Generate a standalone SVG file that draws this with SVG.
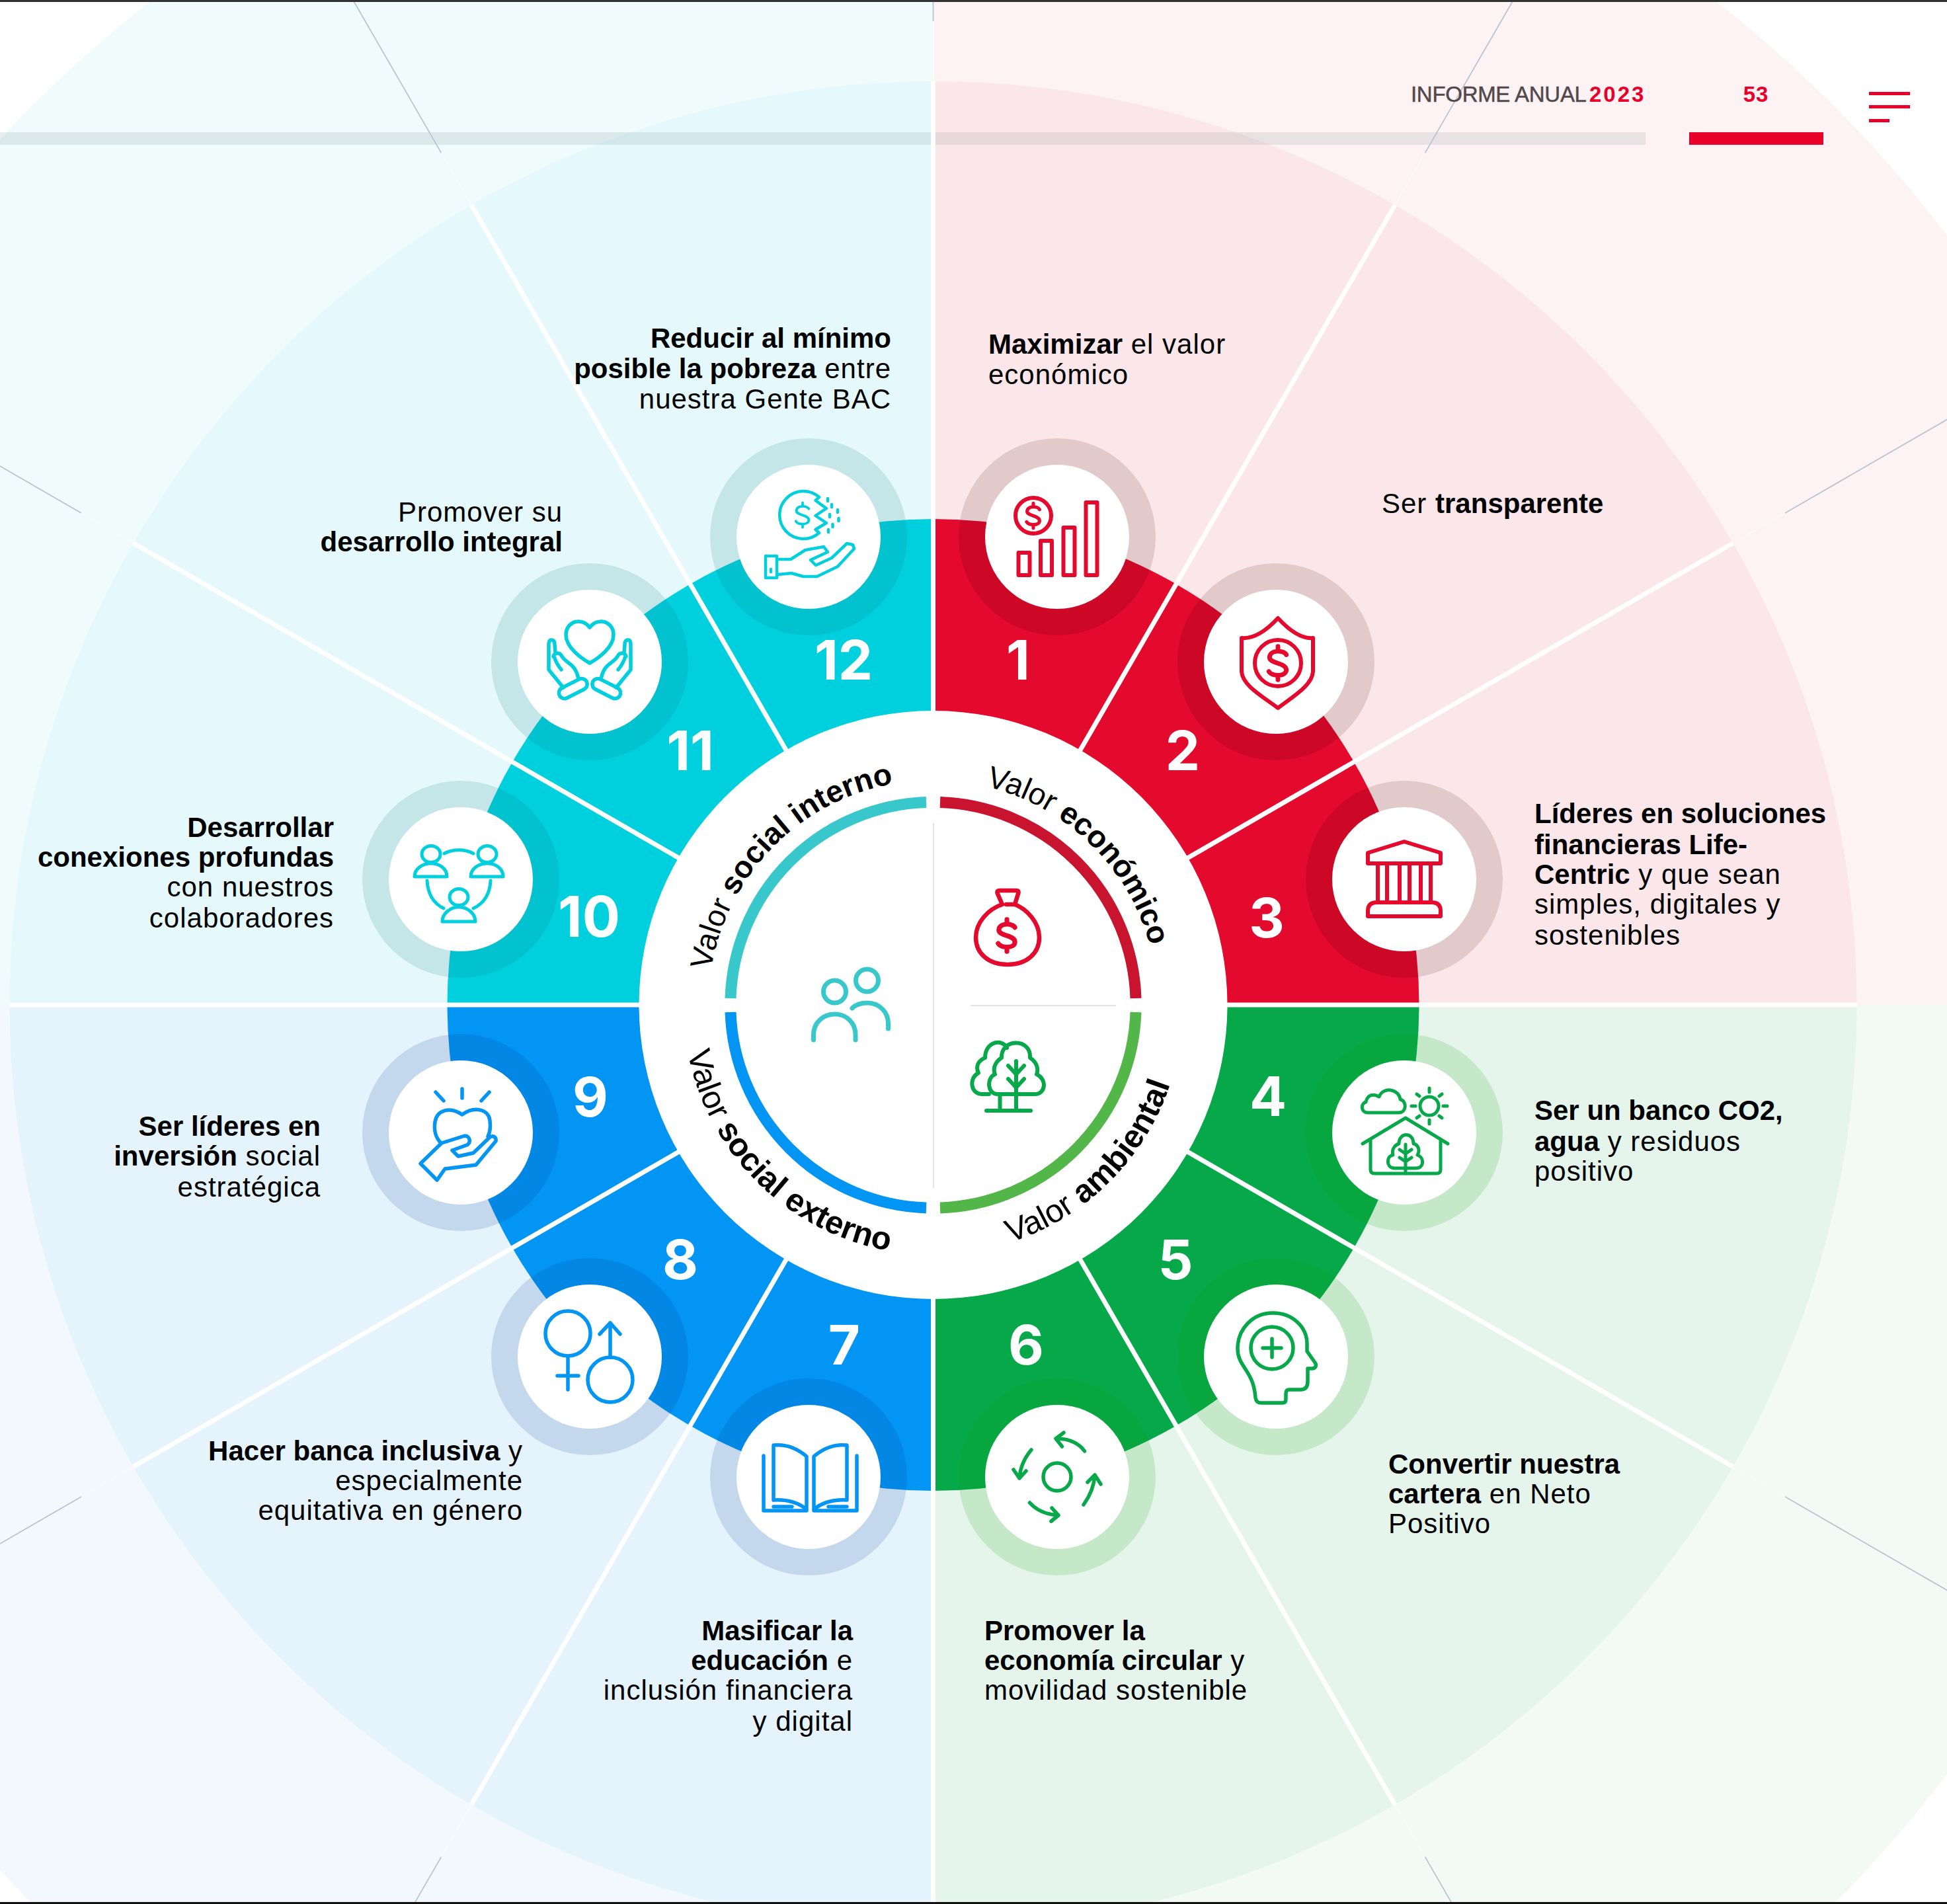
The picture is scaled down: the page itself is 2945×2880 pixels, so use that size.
<svg xmlns="http://www.w3.org/2000/svg" width="2945" height="2880" viewBox="0 0 2945 2880">
<style>
text{font-family:"Liberation Sans",Arial,sans-serif}
.t{font-size:42px;fill:#000;letter-spacing:1px}
.t .b{font-weight:700;letter-spacing:0}
.e{text-anchor:end}
.n{font-family:Inter,"Liberation Sans",sans-serif;font-size:83px;font-weight:700;fill:#fff;text-anchor:middle}
.c{font-size:46.5px;fill:#000}
.cl{font-size:49px;fill:#000}
.c .b,.cl .b{font-weight:700}
.disc{fill:#fff}
.rr{fill:#3a0000;fill-opacity:.13}.rc{fill:#0d7880;fill-opacity:.15}.rg{fill:#079a00;fill-opacity:.14}.rb{fill:#003493;fill-opacity:.146}
.i{fill:none;stroke-width:5.5;stroke-linecap:round;stroke-linejoin:round}
.ir{stroke:#e30a2d;stroke-width:6}.ic{stroke:#00cfdd}.ig{stroke:#07a84a}.ib{stroke:#0395f3}
.spoke{stroke:#fff;stroke-width:7}
.faint{stroke:#fff;stroke-width:2;stroke-opacity:.35}
.thin{stroke:#b9c4d2;stroke-width:1.8}
.arc{fill:none;stroke-width:17}
</style>
<defs>
<path id="dollar" d="M11,-11C8,-17 -10,-18 -11,-8C-12,1 11,-1 11,9C11,18 -8,18 -12,11M0,-22V-16M0,16V22"/>
<path id="upper" d="M1071.5,1520A340,340 0 0 1 1751.5,1520"/>
<path id="lower" d="M1033.5,1520A378,378 0 0 0 1789.5,1520"/>
</defs>
<rect width="2945" height="2880" fill="#fff"/>
<g id="background">
<path fill="#fdf3f5" d="M1411.5,1520V-405A1925,1925 0 0 1 3336.5,1520Z"/>
<path fill="#f3f9f5" d="M1411.5,1520H3336.5A1925,1925 0 0 1 1411.5,3445Z"/>
<path fill="#f2f8fe" d="M1411.5,1520V3445A1925,1925 0 0 1 -513.5,1520Z"/>
<path fill="#f0fbfc" d="M1411.5,1520H-513.5A1925,1925 0 0 1 1411.5,-405Z"/>
<path fill="#fbe7e9" d="M1411.5,1520V123A1397,1397 0 0 1 2808.5,1520Z"/>
<path fill="#e5f5eb" d="M1411.5,1520H2808.5A1397,1397 0 0 1 1411.5,2917Z"/>
<path fill="#e5f3fd" d="M1411.5,1520V2917A1397,1397 0 0 1 14.5,1520Z"/>
<path fill="#e5f9fc" d="M1411.5,1520H14.5A1397,1397 0 0 1 1411.5,123Z"/>
<path fill="#e30a2d" d="M1411.5,1520V785A735,735 0 0 1 2146.5,1520Z"/>
<path fill="#07a84a" d="M1411.5,1520H2146.5A735,735 0 0 1 1411.5,2255Z"/>
<path fill="#0395f3" d="M1411.5,1520V2255A735,735 0 0 1 676.5,1520Z"/>
<path fill="#00cfdd" d="M1411.5,1520H676.5A735,735 0 0 1 1411.5,785Z"/>
</g>
<g id="header-bars">
<rect x="0" y="200" width="2489" height="19" fill="#32505c" fill-opacity=".1"/>
<rect x="2555" y="200" width="203" height="19" fill="#e8002a"/>
<rect x="2827" y="139" width="62" height="5" fill="#e8002a"/>
<rect x="2827" y="159" width="62" height="5" fill="#e8002a"/>
<rect x="2827" y="180" width="31" height="5" fill="#e8002a"/>
</g>
<g id="connectors">
<g class="thin">
<line x1="1411.5" y1="32" x2="1411.5" y2="-500"/>
<line x1="1411.5" y1="32" x2="1411.5" y2="-500" transform="rotate(30 1411.5 1520)"/>
<line x1="1411.5" y1="32" x2="1411.5" y2="-500" transform="rotate(60 1411.5 1520)"/>
<line x1="1411.5" y1="32" x2="1411.5" y2="-500" transform="rotate(120 1411.5 1520)"/>
<line x1="1411.5" y1="32" x2="1411.5" y2="-500" transform="rotate(150 1411.5 1520)"/>
<line x1="1411.5" y1="32" x2="1411.5" y2="-500" transform="rotate(210 1411.5 1520)"/>
<line x1="1411.5" y1="32" x2="1411.5" y2="-500" transform="rotate(240 1411.5 1520)"/>
<line x1="1411.5" y1="32" x2="1411.5" y2="-500" transform="rotate(300 1411.5 1520)"/>
<line x1="1411.5" y1="32" x2="1411.5" y2="-500" transform="rotate(330 1411.5 1520)"/>
</g>
<g class="faint">
<line x1="1411.5" y1="123" x2="1411.5" y2="32"/>
<line x1="1411.5" y1="123" x2="1411.5" y2="32" transform="rotate(30 1411.5 1520)"/>
<line x1="1411.5" y1="123" x2="1411.5" y2="32" transform="rotate(60 1411.5 1520)"/>
<line x1="1411.5" y1="123" x2="1411.5" y2="32" transform="rotate(120 1411.5 1520)"/>
<line x1="1411.5" y1="123" x2="1411.5" y2="32" transform="rotate(150 1411.5 1520)"/>
<line x1="1411.5" y1="123" x2="1411.5" y2="32" transform="rotate(210 1411.5 1520)"/>
<line x1="1411.5" y1="123" x2="1411.5" y2="32" transform="rotate(240 1411.5 1520)"/>
<line x1="1411.5" y1="123" x2="1411.5" y2="32" transform="rotate(300 1411.5 1520)"/>
<line x1="1411.5" y1="123" x2="1411.5" y2="32" transform="rotate(330 1411.5 1520)"/>
</g>
<g class="spoke">
<line x1="1411.5" y1="1100" x2="1411.5" y2="123"/>
<line x1="1411.5" y1="1100" x2="1411.5" y2="123" transform="rotate(30 1411.5 1520)"/>
<line x1="1411.5" y1="1100" x2="1411.5" y2="123" transform="rotate(60 1411.5 1520)"/>
<line x1="1411.5" y1="1100" x2="1411.5" y2="123" transform="rotate(90 1411.5 1520)"/>
<line x1="1411.5" y1="1100" x2="1411.5" y2="123" transform="rotate(120 1411.5 1520)"/>
<line x1="1411.5" y1="1100" x2="1411.5" y2="123" transform="rotate(150 1411.5 1520)"/>
<line x1="1411.5" y1="1100" x2="1411.5" y2="123" transform="rotate(180 1411.5 1520)"/>
<line x1="1411.5" y1="1100" x2="1411.5" y2="123" transform="rotate(210 1411.5 1520)"/>
<line x1="1411.5" y1="1100" x2="1411.5" y2="123" transform="rotate(240 1411.5 1520)"/>
<line x1="1411.5" y1="1100" x2="1411.5" y2="123" transform="rotate(270 1411.5 1520)"/>
<line x1="1411.5" y1="1100" x2="1411.5" y2="123" transform="rotate(300 1411.5 1520)"/>
<line x1="1411.5" y1="1100" x2="1411.5" y2="123" transform="rotate(330 1411.5 1520)"/>
</g>
</g>
<g id="hub">
<circle class="disc" cx="1411.5" cy="1520" r="445"/>
<line x1="1412" y1="1245" x2="1412" y2="1797" stroke="#e4e4e8" stroke-width="2"/>
<line x1="1468" y1="1521" x2="1688" y2="1521" stroke="#e4e4e8" stroke-width="2"/>
<path class="arc" stroke="#c8142f" d="M1422,1213.5A306.5,306.5 0 0 1 1718,1510"/>
<path class="arc" stroke="#52b748" d="M1718,1531A306.5,306.5 0 0 1 1422,1827"/>
<path class="arc" stroke="#0395f3" d="M1401,1827A306.5,306.5 0 0 1 1105,1531"/>
<path class="arc" stroke="#38c8cc" d="M1105,1510A306.5,306.5 0 0 1 1401,1213.5"/>
<text class="c"><textPath href="#upper" startOffset="614">Valor <tspan class="b">económico</tspan></textPath></text>
<text class="c"><textPath href="#upper" startOffset="53">Valor <tspan class="b">social interno</tspan></textPath></text>
<text class="cl"><textPath href="#lower" startOffset="72">Valor <tspan class="b">social externo</tspan></textPath></text>
<text class="cl"><textPath href="#lower" startOffset="712">Valor <tspan class="b">ambiental</tspan></textPath></text>
<g id="hub-bag" class="i ir" style="stroke-width:6.5">
<path d="M1516,1368C1495,1375 1476,1395 1476,1418C1476,1442 1495,1459 1524,1459C1553,1459 1572,1442 1572,1418C1572,1395 1553,1375 1535,1368H1522M1516,1368L1509,1352Q1507,1347 1512,1347H1537Q1542,1347 1540,1352L1535,1368"/>
<use href="#dollar" transform="translate(1523,1415) scale(1.1)"/>
</g>
<g id="hub-people" class="i" style="stroke:#38c8cc;stroke-width:7">
<circle cx="1262.5" cy="1500" r="17"/><circle cx="1311.5" cy="1483" r="17"/>
<path d="M1230.5,1573V1565C1230.5,1547 1245,1534 1262.5,1534C1280,1534 1294,1547 1294,1565V1573"/>
<path d="M1289,1525C1295,1519 1303,1517 1312,1517C1330,1517 1343.5,1531 1343.5,1548V1556"/>
</g>
<g id="hub-trees" class="i ig" style="stroke-width:6">
<path d="M1509,1655C1493,1655 1492,1630 1505,1625C1500,1612 1510,1603 1515,1600C1514,1570 1560,1570 1558,1600C1566,1605 1572,1615 1568,1625C1584,1632 1582,1655 1565,1655Z"/>
<path d="M1496,1655H1485C1468,1655 1465,1630 1480,1623C1474,1610 1483,1603 1490,1600C1490,1576 1515,1570 1523,1585"/>
<path d="M1537,1605V1680M1537,1625L1525,1612M1537,1625L1549,1612M1537,1645L1525,1632M1537,1645L1549,1632M1512.5,1655V1680M1492,1680H1559"/>
</g>
</g>
<g id="node-1">
<circle class="rr" cx="1599" cy="812" r="149"/><circle class="disc" cx="1599" cy="812" r="109"/>
<g class="i ir" transform="translate(1599,812)">
<circle cx="-36" cy="-32" r="27"/><use href="#dollar" transform="translate(-36,-32) scale(.85)"/>
<rect x="-58.5" y="24" width="17" height="34"/><rect x="-25" y="6" width="17" height="52"/><rect x="9.5" y="-14" width="17" height="72"/><rect x="43.5" y="-52" width="17" height="110"/>
</g>
<text class="n" x="1540" y="1028">1</text>
<text class="t" x="1495"><tspan x="1495" y="535"><tspan class="b">Maximizar</tspan> el valor</tspan><tspan x="1495" y="581">económico</tspan></text>
</g>
<g id="node-2">
<circle class="rr" cx="1930" cy="1001" r="149"/><circle class="disc" cx="1930" cy="1001" r="109"/>
<g class="i ir" transform="translate(1930,1001)">
<path d="M3,-66C16,-52 36,-34 56,-36V14C56,36 22,55 3,70C-16,55 -52,36 -52,14V-36C-30,-34 -10,-52 3,-66Z"/>
<circle cx="3" cy="2" r="35"/><use href="#dollar" transform="translate(3,2) scale(1.15)"/>
</g>
<text class="n" x="1789" y="1165">2</text>
<text class="t" x="2090" y="776">Ser <tspan class="b">transparente</tspan></text>
</g>
<g id="node-3">
<circle class="rr" cx="2124" cy="1330" r="149"/><circle class="disc" cx="2124" cy="1330" r="109"/>
<g class="i ir" transform="translate(2124,1330)">
<path d="M0,-57L55,-40V-24H-55V-40Z"/>
<path d="M-40,-24V33M-26,-24V33M-7,-24V33M8,-24V33M25,-24V33M40,-24V33"/>
<path d="M-55,56V48Q-55,35 -42,35H42Q55,35 55,48V56Z"/>
</g>
<text class="n" x="1916" y="1418">3</text>
<text class="t"><tspan class="b" x="2321" y="1245">Líderes en soluciones</tspan><tspan class="b" x="2321" y="1292">financieras Life-</tspan><tspan x="2321" y="1337"><tspan class="b">Centric</tspan> y que sean</tspan><tspan x="2321" y="1382">simples, digitales y</tspan><tspan x="2321" y="1429">sostenibles</tspan></text>
</g>
<g id="node-4">
<circle class="rg" cx="2124" cy="1713" r="149"/><circle class="disc" cx="2124" cy="1713" r="109"/>
<g class="i ig" transform="translate(2124,1713)" style="stroke-width:5">
<path d="M-55,-30H-8C4,-30 4,-48 -6,-50C-8,-66 -32,-70 -38,-54C-48,-60 -56,-56 -58,-46C-66,-44 -66,-30 -55,-30Z"/>
<circle cx="38" cy="-40" r="14"/>
<path d="M38,-61V-67M38,-19V-13M17,-40H11M59,-40H65M23,-55L19,-58M53,-55L57,-58M23,-25L19,-22M53,-25L57,-22"/>
<path d="M-63,17L2,-22L66,17M-51,11V56Q-51,62 -45,62H49Q55,62 55,56V11"/>
<path d="M-15,54C-27,54 -28,36 -17,34C-20,24 -12,18 -8,17C-8,-1 14,-1 14,17C20,18 25,26 20,34C31,38 30,54 18,54Z"/>
<path d="M2,18V62M2,32L-7,26M2,32L11,26M2,44L-7,38M2,44L11,38"/>
</g>
<text class="n" x="1918" y="1688">4</text>
<text class="t"><tspan class="b" x="2321" y="1694">Ser un banco CO2,</tspan><tspan x="2321" y="1741"><tspan class="b">agua</tspan> y residuos</tspan><tspan x="2321" y="1786">positivo</tspan></text>
</g>
<g id="node-5">
<circle class="rg" cx="1930" cy="2052" r="149"/><circle class="disc" cx="1930" cy="2052" r="109"/>
<g class="i ig" transform="translate(1930,2052)">
<path d="M-23,70H10Q15,70 15,64V56Q15,50 20,50H37Q48,50 48,38V18H55C60,18 62,13 59,9L47,-8V-19C47,-45 25,-66 -5,-66C-35,-66 -58,-42 -58,-12C-58,16 -34,20 -31,62Q-30,70 -23,70Z"/>
<circle cx="-6" cy="-13" r="32"/><path d="M-6,-27V1M-20,-13H8"/>
</g>
<text class="n" x="1778" y="1935">5</text>
<text class="t"><tspan class="b" x="2100" y="2229">Convertir nuestra</tspan><tspan x="2100" y="2274"><tspan class="b">cartera</tspan> en Neto</tspan><tspan x="2100" y="2319">Positivo</tspan></text>
</g>
<g id="node-6">
<circle class="rg" cx="1599" cy="2234" r="149"/><circle class="disc" cx="1599" cy="2234" r="109"/>
<g class="i ig" transform="translate(1599,2234)">
<circle r="21"/>
<path d="M41.5,-39C32,-52 18,-58 -2,-58M10,-67L-2,-58L7.5,-46"/>
<path d="M-39,-41C-50,-28 -56,-14 -57,2M-66,-11L-57,2L-47,-9"/>
<path d="M40,42C50,28 56,14 57,-3M46,8L57,-3L66,11"/>
<path d="M-41.5,39C-30,52 -15,57 2,58M-8,47L2,58L-9,67"/>
</g>
<text class="n" x="1552" y="2064">6</text>
<text class="t"><tspan class="b" x="1489" y="2481">Promover la</tspan><tspan x="1489" y="2526"><tspan class="b">economía circular</tspan> y</tspan><tspan x="1489" y="2571">movilidad sostenible</tspan></text>
</g>
<g id="node-7">
<circle class="rb" cx="1223" cy="2234" r="149"/><circle class="disc" cx="1223" cy="2234" r="109"/>
<g class="i ib" transform="translate(1223,2234)">
<path d="M-3,-31V49C-18,37 -36,34 -53,35V-48C-34,-50 -18,-44 -3,-31Z"/>
<path d="M8,-31V49C23,37 41,34 58,35V-48C39,-50 23,-44 8,-31Z"/>
<path d="M-68,-32V51H-3M73,-32V51H8M-53,45H-25M58,45H30"/>
</g>
<text class="n" x="1277" y="2064">7</text>
<text class="t e"><tspan class="b" x="1290" y="2481">Masificar la</tspan><tspan x="1290" y="2526"><tspan class="b">educación</tspan> e</tspan><tspan x="1290" y="2571">inclusión financiera</tspan><tspan x="1290" y="2618">y digital</tspan></text>
</g>
<g id="node-8">
<circle class="rb" cx="892" cy="2052" r="149"/><circle class="disc" cx="892" cy="2052" r="109"/>
<g class="i ib" transform="translate(892,2052)">
<circle cx="-33" cy="-35" r="34"/><path d="M-33,0V50M-49,29H-17"/>
<circle cx="31" cy="35" r="34"/><path d="M31,1V-51M15,-34L31,-51L46,-34"/>
</g>
<text class="n" x="1029" y="1935">8</text>
<text class="t e"><tspan x="791" y="2209"><tspan class="b">Hacer banca inclusiva</tspan> y</tspan><tspan x="791" y="2254">especialmente</tspan><tspan x="791" y="2299">equitativa en género</tspan></text>
</g>
<g id="node-9">
<circle class="rb" cx="697" cy="1713" r="149"/><circle class="disc" cx="697" cy="1713" r="109"/>
<g class="i ib" transform="translate(697,1713)">
<path d="M2,-66V-52M-38,-61L-26,-48M43,-61L31,-48"/>
<path d="M-30,16C-38,8 -41,-4 -39,-16C-36,-34 -16,-40 2,-27C20,-40 42,-36 44,-18C45,-10 45,-2 41,6"/>
<path d="M-61,47L-36,72L-24,55L23,49L53,13C54,7 49,4 44,7L19,31L-4,36L-13,27L9,19C16,16 14,5 6,5L-29,16Z"/>
</g>
<text class="n" x="893" y="1689">9</text>
<text class="t e"><tspan class="b" x="485" y="1718">Ser líderes en</tspan><tspan x="485" y="1763"><tspan class="b">inversión</tspan> social</tspan><tspan x="485" y="1810">estratégica</tspan></text>
</g>
<g id="node-10">
<circle class="rc" cx="697" cy="1330" r="149"/><circle class="disc" cx="697" cy="1330" r="109"/>
<g class="i ic" transform="translate(697,1330)" style="stroke-width:5">
<ellipse cx="-45" cy="-38" rx="14" ry="12.5"/><ellipse cx="40" cy="-38" rx="14" ry="12.5"/><ellipse cx="-3" cy="27" rx="14" ry="12.5"/>
<path d="M-70,-4H-21C-21,-16 -32,-24 -45,-24C-58,-24 -70,-16 -70,-4Z"/>
<path d="M15,-4H64C64,-16 53,-24 40,-24C27,-24 15,-16 15,-4Z"/>
<path d="M-28,64H22C22,52 10,42 -3,42C-16,42 -28,52 -28,64Z"/>
<path d="M-25,-39C-12,-46 6,-46 19,-39M-51,2C-50,22 -42,36 -26,44M45,2C44,22 36,36 19,44"/>
</g>
<text class="n" x="891" y="1417" style="font-size:85px">10</text>
<text class="t e"><tspan class="b" x="505" y="1266">Desarrollar</tspan><tspan class="b" x="505" y="1311">conexiones profundas</tspan><tspan x="505" y="1356">con nuestros</tspan><tspan x="505" y="1403">colaboradores</tspan></text>
</g>
<g id="node-11">
<circle class="rc" cx="892" cy="1001" r="149"/><circle class="disc" cx="892" cy="1001" r="109"/>
<g class="i ic" transform="translate(892,1001)">
<path d="M0,2C-14,-6 -36,-22 -36,-41C-36,-53 -27,-61 -17,-61C-9,-61 -4,-57 0,-52C4,-57 9,-61 17,-61C27,-61 36,-53 36,-41C36,-22 14,-6 0,2Z"/>
<path d="M-40,39L-62,12V-26Q-62,-33 -58,-33Q-53,-33 -53,-26L-52,-14M-54,-8C-52,-2 -48,6 -43,12M-55,-8C-54,-13 -46,-16 -42,-8C-34,4 -22,2 -17,26"/>
<rect x="-48" y="32" width="46" height="17" rx="8.5" transform="rotate(-27 -25 41)"/>
<path d="M40,39L62,12V-26Q62,-33 58,-33Q53,-33 53,-26L52,-14M54,-8C52,-2 48,6 43,12M55,-8C54,-13 46,-16 42,-8C34,4 22,2 17,26"/>
<rect x="2" y="32" width="46" height="17" rx="8.5" transform="rotate(27 25 41)"/>
</g>
<text class="n" x="1044" y="1165">11</text>
<text class="t e"><tspan x="851" y="789">Promover su</tspan><tspan class="b" x="851" y="834">desarrollo integral</tspan></text>
</g>
<g id="node-12">
<circle class="rc" cx="1223" cy="812" r="149"/><circle class="disc" cx="1223" cy="812" r="109"/>
<g class="i ic" transform="translate(1223,812)" style="stroke-width:4.5">
<path d="M16,-60A36,36 0 1 0 16,-6L10.5,-11L27,-21L10.5,-32L27,-43L10.5,-55Z"/>
<use href="#dollar" transform="translate(-9,-33) scale(.85)"/>
<path d="M29,-58v4M35,-49v4M44,-41v4M32,-34v4M45.5,-28v4M36.5,-19v4M30,-11v4"/>
<rect x="-65" y="29" width="17" height="33"/><path d="M-57,49v4"/>
<path d="M-46,34H-27L-5,20L23,15L29,23L3,35L11,43L35,32L58,10L67,12L69,18L44,45L13,60H-8L-26,55L-46,57"/>
</g>
<text class="n" x="1276" y="1028">12</text>
<text class="t e"><tspan class="b" x="1348" y="526">Reducir al mínimo</tspan><tspan x="1348" y="572"><tspan class="b">posible la pobreza</tspan> entre</tspan><tspan x="1348" y="618">nuestra Gente BAC</tspan></text>
</g>
<g id="header-text">
<text x="2134" y="154" font-size="33" fill="#54484c" stroke="#54484c" stroke-width=".5" letter-spacing="-.3">INFORME ANUAL</text>
<text x="2404" y="154" font-size="33" font-weight="700" fill="#e8002a" letter-spacing="3">2023</text>
<text x="2656" y="154" font-size="33" font-weight="700" fill="#e8002a" text-anchor="middle" letter-spacing="1">53</text>
</g>
<rect id="top-edge" width="2945" height="3" fill="#333"/>
<rect id="bottom-edge" y="2877" width="2945" height="3" fill="#111"/>
</svg>
